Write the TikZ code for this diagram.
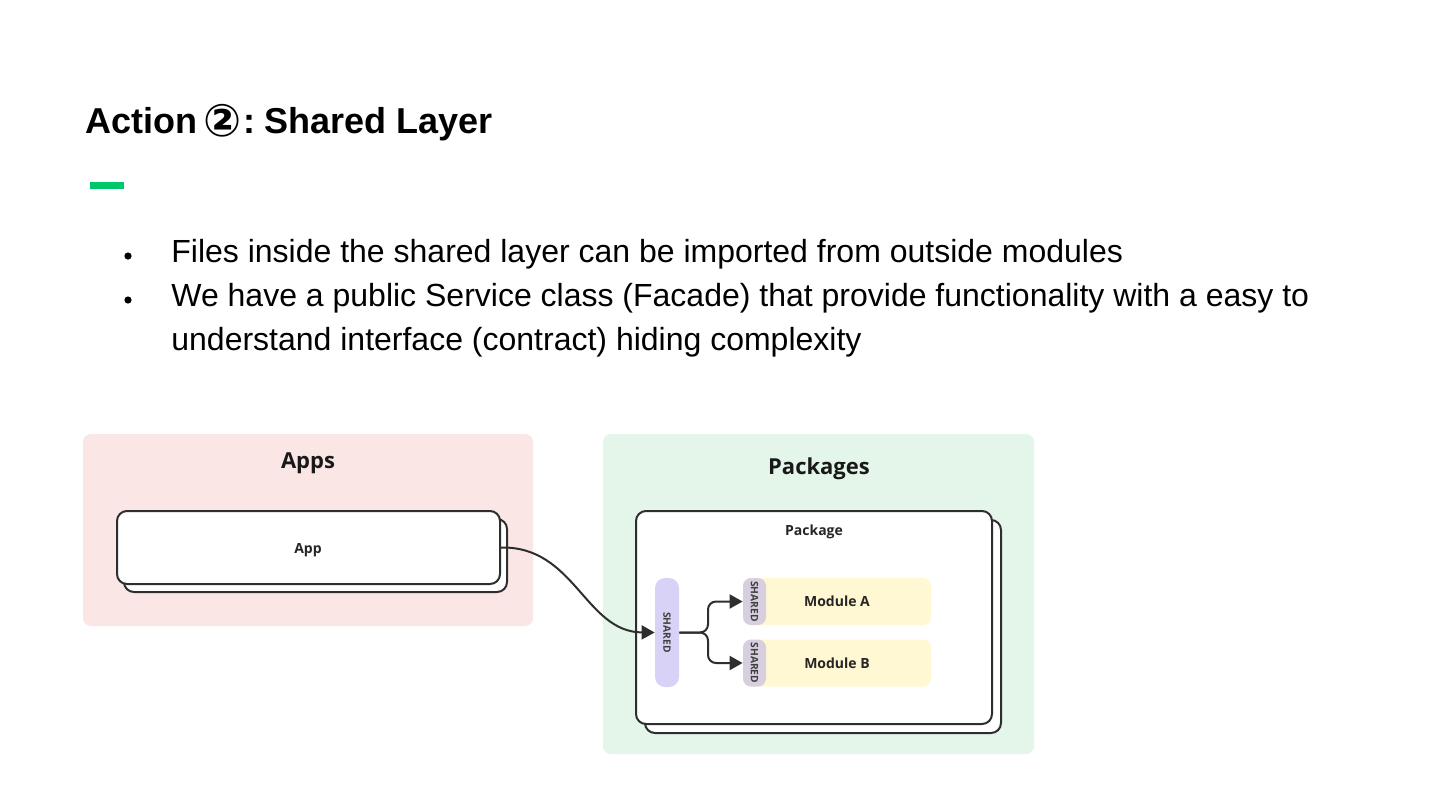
\documentclass[tikz,border=0pt]{standalone}
\usepackage{fontspec}
\setmainfont{Liberation Sans}
\newfontfamily\osans{Open Sans}
\newfontfamily\dejavu{DejaVu Sans}
\usetikzlibrary{arrows.meta}
\definecolor{appsbg}{HTML}{FAE7E5}
\definecolor{pkgbg}{HTML}{E3F6E9}
\definecolor{accent}{HTML}{00C76A}
\definecolor{lineclr}{HTML}{2E2E2E}
\definecolor{sharedbg}{HTML}{D8D3F6}
\definecolor{tabbg}{HTML}{D7CFE0}
\definecolor{modbg}{HTML}{FFF8D2}
\tikzset{
  area/.style={rounded corners=4pt, inner sep=0pt, draw=none},
  card/.style={draw=lineclr, line width=1pt, fill=white, rounded corners=5pt, inner sep=0pt},
  areatitle/.style={font=\osans\bfseries\fontsize{11}{13}\selectfont, text=black!90},
  cardlabel/.style={font=\osans\bfseries\fontsize{7}{8}\selectfont, text=black!85},
  tag/.style={font=\osans\bfseries\fontsize{5.1}{6}\selectfont, text=black!75, rotate=-90},
  conn/.style={draw=lineclr, line width=1pt, -{Triangle[length=6.5pt,width=7pt]}},
  bodytext/.style={font=\fontsize{16}{19}\selectfont, anchor=base west, inner sep=0pt},
  dot/.style={circle, fill=black, minimum size=3.6pt, inner sep=0pt},
}
\begin{document}
\begin{tikzpicture}[x=0.5pt,y=-0.5pt]
\useasboundingbox[fill=white] (0,0) rectangle (1440,810);

% title
\node[anchor=base west, inner sep=0pt, font=\bfseries\fontsize{18}{20}\selectfont] (title) at (85,133)
  {Action\hspace{3pt}\raisebox{-1.8pt}{\dejavu\bfseries\fontsize{22.5}{23}\selectfont ②}\hspace{1pt}:\hspace{4.5pt}Shared Layer};
\node[fill=accent, minimum width=17pt, minimum height=3.5pt, inner sep=0pt] (bar) at (107,185.5) {};

% bullets
\node[dot] (b1) at (128,256) {};
\node[dot] (b2) at (128,300) {};
\node[bodytext] (t1) at (171,262) {Files inside the shared layer can be imported from outside modules};
\node[bodytext] (t2) at (171,306) {We have a public Service class (Facade) that provide functionality with a easy to};
\node[bodytext] (t3) at (171,350) {understand interface (contract) hiding complexity};

% areas
\node[area, fill=appsbg, minimum width=225pt, minimum height=96pt] (apps) at (308,530) {};
\node[areatitle] (appstitle) at (308,463) {Apps};
\node[area, fill=pkgbg, minimum width=215.5pt, minimum height=160pt] (pkgs) at (818.5,594) {};
\node[areatitle] (pkgstitle) at (819,469) {Packages};

% app cards
\node[card, minimum width=191.5pt, minimum height=36.5pt] (appback) at (315.5,555.5) {};
\node[card, minimum width=191.5pt, minimum height=36.5pt] (app) at (308.5,547.5) {};
\node[cardlabel] (applabel) at (308,550) {App};

% package cards
\node[card, minimum width=178pt, minimum height=106.5pt] (pkgback) at (823,626.5) {};
\node[card, minimum width=178pt, minimum height=106.5pt] (pkg) at (814,617.5) {};
\node[cardlabel] (pkglabel) at (814,532) {Package};

% shared facade
\node[fill=sharedbg, rounded corners=5pt, minimum width=12pt, minimum height=54.5pt, inner sep=0pt] (shared) at (667,632.5) {};
\node[tag] (sharedtxt) at (667,632.5) {SHARED};

% modules
\node[fill=modbg, rounded corners=4pt, minimum width=94pt, minimum height=23.5pt, inner sep=0pt] (moda) at (837,601.5) {};
\node[fill=tabbg, rounded corners=4pt, minimum width=11.5pt, minimum height=23.5pt, inner sep=0pt] (taba) at (754.5,601.5) {};
\node[tag] (tagatxt) at (754.5,601.5) {SHARED};
\node[cardlabel] (modatxt) at (837,601.5) {Module A};

\node[fill=modbg, rounded corners=4pt, minimum width=94pt, minimum height=23.5pt, inner sep=0pt] (modb) at (837,663) {};
\node[fill=tabbg, rounded corners=4pt, minimum width=11.5pt, minimum height=23.5pt, inner sep=0pt] (tabb) at (754.5,663) {};
\node[tag] (tagbtxt) at (754.5,663) {SHARED};
\node[cardlabel] (modbtxt) at (837,663) {Module B};

% connectors
\draw[conn] (app.east) .. controls (575,546) and (585,632) .. (shared.west);
\coordinate (fork) at (708,632.5);
\draw[conn, rounded corners=4pt] (shared.east) -- (fork) |- (taba.west);
\draw[conn, rounded corners=4pt] (shared.east) -- (fork) |- (tabb.west);
\end{tikzpicture}
\end{document}
